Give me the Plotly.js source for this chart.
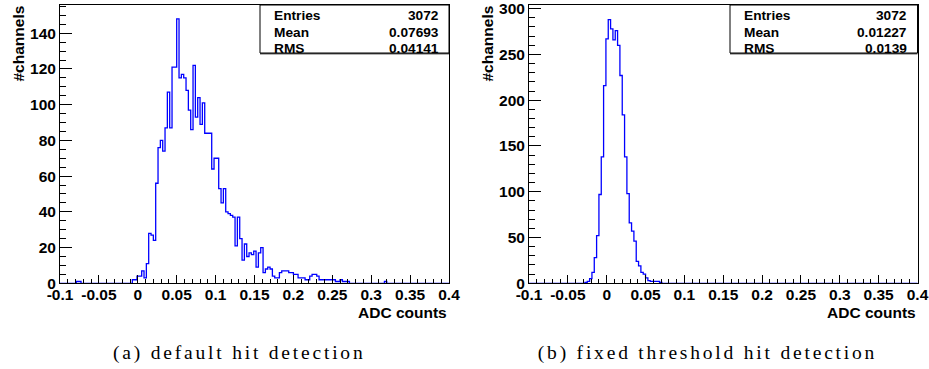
<!DOCTYPE html>
<html><head><meta charset="utf-8">
<script src="https://cdn.plot.ly/plotly-3.0.1.min.js"></script>
<style>html,body{margin:0;padding:0;background:#fff;} #chart{width:929px;height:369px;}</style>
</head><body><div id="chart"></div>
<script>
// ---- data ----
const xMin = -0.1;
const binWidth = 0.003;
const nBins = 167;

// (a) default hit detection : counts of consecutive bins starting at bin index leftRunStart
const leftRunStart = 31;
const leftRunCounts = [2,2,4,4,7,3,11, 28,27,24,56, 76,80,74,87,107,87,121,121,148,
  115,117,115,108,97,86,122, 93,104,89,101,84,84,84, 64,70,70,53,45,53,40,39,38,37,
  21,37,25,13,22,15,17,16,18,9,17,20,
  6,8,9,8,4,3,3,6,7,7,7,6,6,5,5,3,3,3,2,2,4,5,5,4,2,2,2,2,2,2,2,1,1,2,1,1,1];
const leftExtraBins = [7, 8, 139];
const leftExtraCounts = [1, 1, 1];

// (b) fixed threshold hit detection
const rightRunStart = 24;
const rightRunCounts = [1,2,5,12,28,52,97,138,216,267, 288,
  278,266,276,260,227,184,138,98,66,57, 46,24,19,12,10,6,3,2,2,2,2,1];
const rightExtraBins = [];
const rightExtraCounts = [];

const xTickVals = [-0.1,-0.05,0,0.05,0.1,0.15,0.2,0.25,0.3,0.35,0.4];
const xTickText = ['-0.1','-0.05','0','0.05','0.1','0.15','0.2','0.25','0.3','0.35','0.4'];
const statsLabels = ['Entries','Mean','RMS'];
const leftStats = ['3072','0.07693','0.04141'];
const rightStats = ['3072','0.01227','0.0139'];
const xTitle = 'ADC counts';
const yTitle = '#channels';
const captions = ['(a) default hit detection', '(b) fixed threshold hit detection'];

// ---- build ----
function stepData(runStart, runCounts, extraBins, extraCounts) {
  const counts = new Array(nBins).fill(0);
  runCounts.forEach((c, i) => { counts[runStart + i] = c; });
  extraBins.forEach((b, i) => { counts[b] = extraCounts[i]; });
  const x = [], y = [];
  for (let k = 0; k < nBins; k++) { x.push(xMin + k * binWidth); y.push(counts[k]); }
  x.push(xMin + nBins * binWidth); y.push(counts[nBins - 1]);
  return {x, y};
}
const W = 929, H = 369;
const px = p => p / W;
const py = p => 1 - p / H;

const L = stepData(leftRunStart, leftRunCounts, leftExtraBins, leftExtraCounts);
const R = stepData(rightRunStart, rightRunCounts, rightExtraBins, rightExtraCounts);

const lineStyle = {color: '#0000ff', width: 1.3, shape: 'hv'};
const traces = [
  {x: L.x, y: L.y, type: 'scatter', mode: 'lines', line: lineStyle, xaxis: 'x', yaxis: 'y', hoverinfo: 'skip'},
  {x: R.x, y: R.y, type: 'scatter', mode: 'lines', line: lineStyle, xaxis: 'x2', yaxis: 'y2', hoverinfo: 'skip'}
];

const sans = {family: 'Liberation Sans, Arial, sans-serif', size: 15.5, color: '#000', weight: 'bold'};
const statFont = {family: 'Liberation Sans, Arial, sans-serif', size: 13.7, color: '#000', weight: 'bold'};

function xAxis(d0, d1, anchor) {
  return {
    domain: [px(d0), px(d1)], range: [-0.1, 0.4], anchor: anchor,
    tickmode: 'array', tickvals: xTickVals, ticktext: xTickText,
    ticks: 'inside', ticklen: 8.3, tickwidth: 1, tickcolor: '#000', ticklabelstandoff: -3,
    minor: {ticks: 'inside', ticklen: 4.2, tickwidth: 1, tickcolor: '#000', tickmode: 'linear', tick0: 0, dtick: 0.01, showgrid: false},
    showline: true, mirror: true, linecolor: '#000', linewidth: 1,
    showgrid: false, zeroline: false, tickfont: sans, fixedrange: true
  };
}
function yAxis(top, dtick, minorDtick, anchor) {
  return {
    domain: [py(283.3), py(5)], range: [0, top], anchor: anchor,
    tickmode: 'linear', tick0: 0, dtick: dtick,
    ticks: 'inside', ticklen: 11.7, tickwidth: 1, tickcolor: '#000',
    minor: {ticks: 'inside', ticklen: 5.8, tickwidth: 1, tickcolor: '#000', tickmode: 'linear', tick0: 0, dtick: minorDtick, showgrid: false},
    showline: true, mirror: true, linecolor: '#000', linewidth: 1,
    showgrid: false, zeroline: false, tickfont: sans, fixedrange: true
  };
}

const annotations = [];
const shapes = [];
function panelText(frameL, frameR, boxL, stats, titleX) {
  annotations.push({xref: 'paper', yref: 'paper', x: px(frameR), y: py(312), xanchor: 'right', yanchor: 'middle',
    text: xTitle, showarrow: false, font: sans});
  annotations.push({xref: 'paper', yref: 'paper', x: px(titleX), y: py(4), xanchor: 'center', yanchor: 'top',
    text: yTitle, textangle: -90, showarrow: false, font: sans});
  shapes.push({type: 'rect', xref: 'paper', yref: 'paper', x0: px(boxL), x1: px(frameR), y0: py(53), y1: py(5),
    line: {color: '#000', width: 1}, fillcolor: '#fff', layer: 'above'});
  shapes.push({type: 'line', xref: 'paper', yref: 'paper', x0: px(boxL), x1: px(frameR), y0: py(53.8), y1: py(53.8),
    line: {color: '#000', width: 1}, layer: 'above'});
  const rows = [15.5, 32, 48.3];
  statsLabels.forEach((lab, i) => {
    annotations.push({xref: 'paper', yref: 'paper', x: px(boxL + 11.5), y: py(rows[i]), xanchor: 'left', yanchor: 'middle',
      text: lab, showarrow: false, font: statFont});
    annotations.push({xref: 'paper', yref: 'paper', x: px(frameR - 8.5), y: py(rows[i]), xanchor: 'right', yanchor: 'middle',
      text: stats[i], showarrow: false, font: statFont});
  });
}
panelText(60, 449, 260, leftStats, 18.5);
panelText(529, 917.5, 730, rightStats, 487.5);

const capFont = {family: 'Liberation Serif, Times New Roman, serif', size: 19.5, color: '#000'};
annotations.push({xref: 'paper', yref: 'paper', x: px(239), y: py(353), xanchor: 'center', yanchor: 'middle',
  text: captions[0], showarrow: false, font: capFont});
annotations.push({xref: 'paper', yref: 'paper', x: px(707), y: py(353), xanchor: 'center', yanchor: 'middle',
  text: captions[1], showarrow: false, font: capFont});

const layout = {
  width: W, height: H, margin: {l: 0, r: 0, t: 0, b: 0},
  paper_bgcolor: '#fff', plot_bgcolor: '#fff', showlegend: false,
  xaxis: xAxis(60, 449, 'y'),
  yaxis: yAxis(155.8, 20, 5, 'x'),
  xaxis2: xAxis(529, 917.5, 'y2'),
  yaxis2: yAxis(304, 50, 10, 'x2'),
  annotations: annotations, shapes: shapes
};

Plotly.newPlot('chart', traces, layout, {staticPlot: true, displayModeBar: false}).then(() => {
  document.querySelectorAll('.xtick text, .ytick text, .x2tick text, .y2tick text').forEach(el => {
    el.style.fontWeight = 'bold';
  });
  document.querySelectorAll('.annotation-text').forEach(el => {
    if (el.textContent.charAt(0) === '(') el.style.letterSpacing = '2.8px';
    else el.style.fontWeight = 'bold';
  });
});
</script>
</body></html>
